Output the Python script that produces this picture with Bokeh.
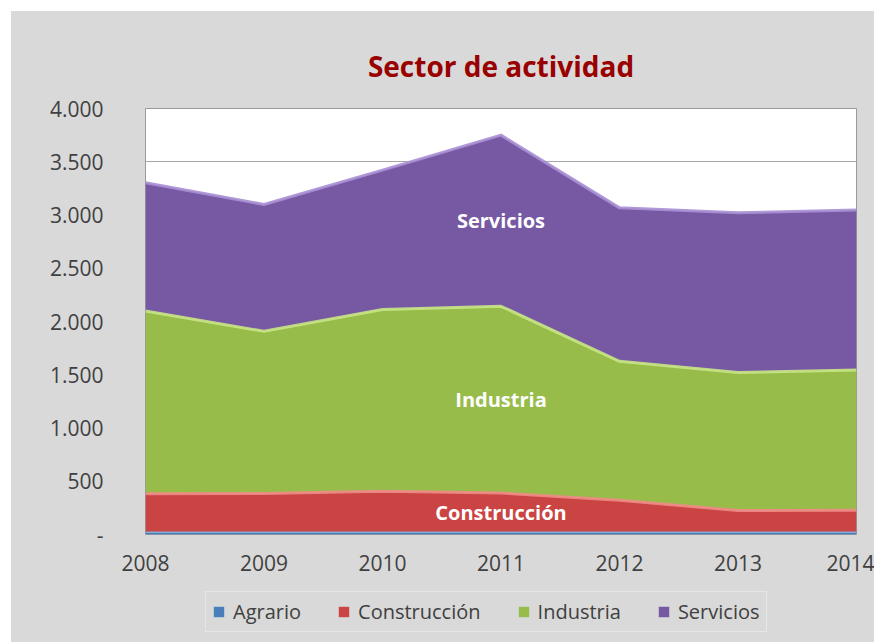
import numpy as np
from bokeh.plotting import figure
from bokeh.layouts import column
from bokeh.models import ColumnDataSource, FixedTicker, Legend, LegendItem, Range1d
from bokeh.core.properties import value
from bokeh.embed import file_html
from bokeh.resources import INLINE

# ---- data ----
years = [2008, 2009, 2010, 2011, 2012, 2013, 2014]
agrario = [22, 22, 22, 21, 21, 20, 20]
construccion = [361, 363, 383, 369, 301, 205, 208]
industria = [1716, 1523, 1707, 1753, 1304, 1297, 1316]
servicios = [1203, 1191, 1309, 1607, 1441, 1499, 1502]
series_names = ["Agrario", "Construcción", "Industria", "Servicios"]
labelled_series = ["Construcción", "Industria", "Servicios"]
label_year = 2011
y_ticks = [0, 500, 1000, 1500, 2000, 2500, 3000, 3500, 4000]
y_tick_labels = ["-", "500", "1.000", "1.500", "2.000", "2.500", "3.000", "3.500", "4.000"]
x_ticks = years
title_text = "Sector de actividad"

# ---- styles ----
fills = ["#4a7ebb", "#c94442", "#97bc4a", "#7658a3"]
highlights = ["#86aee0", "#f08a86", "#c8e684", "#a88fd4"]
FONT = "Open Sans"
BG = "#d9d9d9"

values_by_name = dict(zip(series_names, [agrario, construccion, industria, servicios]))
src = ColumnDataSource(dict(x=years, **values_by_name))

p = figure(frame_width=711, frame_height=426, output_backend="svg", toolbar_location=None,
           x_range=Range1d(2008, 2014), y_range=Range1d(0, 4000),
           min_border_left=134, min_border_right=18, min_border_top=97, min_border_bottom=48)
p.border_fill_color = BG
p.background_fill_color = "white"
p.outline_line_color = "#9a9a9a"
p.outline_line_width = 1

renderers = p.varea_stack(stackers=series_names, x="x", source=src, color=fills)

# bevel-like highlight on the top edge of each band
cum = np.cumsum(np.array([values_by_name[n] for n in series_names], dtype=float), axis=0)
for i, n in enumerate(series_names):
    p.line(years, cum[i], line_color=highlights[i], line_width=3 if i > 0 else 1.5, line_alpha=0.9)

# data labels in the middle of each band at label_year
idx = years.index(label_year)
lx, ly, lt = [], [], []
for n in labelled_series:
    i = series_names.index(n)
    lower = cum[i - 1][idx] if i > 0 else 0
    lx.append(label_year)
    ly.append((lower + cum[i][idx]) / 2)
    lt.append(n)
p.text(x=lx, y=ly, text=lt, text_color="white", text_font=value(FONT),
       text_font_style="bold", text_font_size="20px", text_align="center", text_baseline="middle")

# grid
p.xgrid.visible = False
p.ygrid.ticker = FixedTicker(ticks=y_ticks)
p.ygrid.grid_line_color = "#a6a6a6"
p.ygrid.grid_line_width = 1

# axes
p.yaxis.ticker = FixedTicker(ticks=y_ticks)
p.yaxis.major_label_overrides = {t: l for t, l in zip(y_ticks, y_tick_labels)}
p.xaxis.ticker = FixedTicker(ticks=x_ticks)
for ax in (p.xaxis, p.yaxis):
    ax.axis_line_color = None
    ax.major_tick_line_color = None
    ax.minor_tick_line_color = None
    ax.major_label_text_font = FONT
    ax.major_label_text_font_size = "21px"
    ax.major_label_text_color = "#404040"
p.yaxis.major_label_standoff = 36
p.xaxis.major_label_standoff = 14

# title
p.title.text = title_text
p.title.align = "center"
p.title.text_font = FONT
p.title.text_font_size = "28px"
p.title.text_font_style = "bold"
p.title.text_color = "#990000"
p.title.standoff = 47

# legend strip (separate figure below the chart, same data, glyphs kept out of view)
lg = figure(frame_width=863, frame_height=60, output_backend="svg", toolbar_location=None,
            x_range=Range1d(-10, -9), y_range=Range1d(0, 4000),
            x_axis_location=None, y_axis_location=None, min_border=0)
lg.border_fill_color = BG
lg.background_fill_color = BG
lg.outline_line_color = None
lg.grid.visible = False
lg_renderers = lg.varea_stack(stackers=series_names, x="x", source=src, color=fills)

items = [LegendItem(label=n, renderers=[r]) for n, r in zip(series_names, lg_renderers)]
legend = Legend(items=items, orientation="horizontal", location=(194, 10),
                label_text_font=FONT, label_text_font_size="20px", label_text_color="#404040",
                glyph_width=13, glyph_height=13, label_standoff=8, spacing=36,
                padding=6, margin=0, background_fill_alpha=0,
                border_line_color="#f4f4f4", border_line_width=1.5)
lg.add_layout(legend, "center")

layout = column(p, lg, spacing=0, margin=(11, 0, 0, 11), styles={"background-color": BG})
open("out.html", "w").write(file_html(layout, INLINE))
